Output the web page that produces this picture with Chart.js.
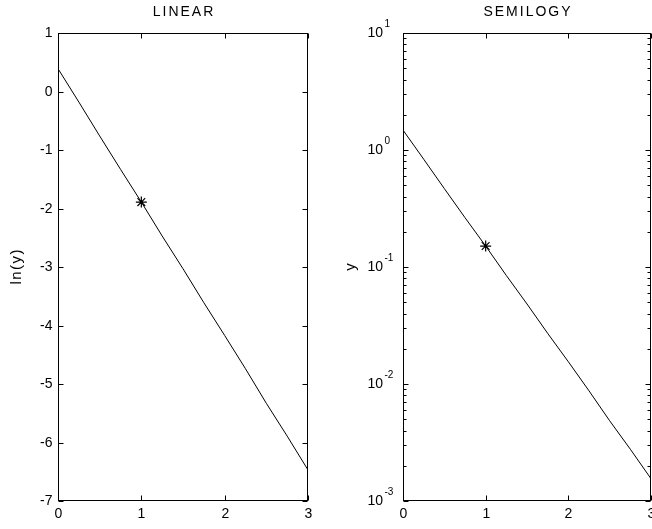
<!DOCTYPE html>
<html>
<head>
<meta charset="utf-8">
<script src="https://cdn.jsdelivr.net/npm/chart.js@4.4.0/dist/chart.umd.min.js"></script>
<style>
  body { margin: 0; background: #fff; overflow: hidden; }
  canvas { position: absolute; top: 0; }
  #linChart { left: 0; }
  #logChart { left: 330px; }
</style>
</head>
<body>
<canvas id="linChart" width="330" height="529"></canvas>
<canvas id="logChart" width="322" height="529"></canvas>
<script>
// sample points of the decay curve
var xs = [0, 0.25, 0.5, 0.75, 1, 1.25, 1.5, 1.75, 2, 2.25, 2.5, 2.75, 3];
var lnY = [0.39, -0.18, -0.76, -1.33, -1.89, -2.47, -3.03, -3.61, -4.17, -4.74, -5.33, -5.89, -6.47];
var yVals = [1.48, 0.835, 0.468, 0.264, 0.151, 0.0846, 0.0483, 0.0271, 0.0155, 0.00874, 0.00485, 0.00277, 0.00155];

// marked point
var markX = 1;
var markLn = -1.89;
var markY = 0.151;

// axis ticks
var xTicks = [0, 1, 2, 3];
var linTicks = [-7, -6, -5, -4, -3, -2, -1, 0, 1];
var logExps = [-3, -2, -1, 0, 1];

var FONT = '"Liberation Sans", Arial, sans-serif';

function pts(xa, ya) {
  var out = [];
  for (var i = 0; i < xa.length; i++) out.push({ x: xa[i], y: ya[i] });
  return out;
}

function tick(ctx, x1, y1, x2, y2) {
  ctx.beginPath();
  ctx.moveTo(x1, y1);
  ctx.lineTo(x2, y2);
  ctx.stroke();
}

// text with tracking, centred on x
function spaced(ctx, s, x, y, sp) {
  ctx.letterSpacing = sp + 'px';
  ctx.fillText(s, x + sp / 2, y);
  ctx.letterSpacing = '0px';
}

// frame, inward ticks and labels like a matlab axes box
var boxAxes = {
  id: 'boxAxes',
  afterDraw: function (chart, args, o) {
    var ctx = chart.ctx;
    var a = chart.chartArea;
    var xs_ = chart.scales.x, ys_ = chart.scales.y;
    var L = Math.round(a.left) + 0.5, R = Math.round(a.right) - 0.5;
    var T = Math.round(a.top) + 0.5, B = Math.round(a.bottom) - 0.5;
    ctx.save();
    ctx.strokeStyle = '#000';
    ctx.lineWidth = 1;
    ctx.strokeRect(L, T, R - L, B - T);
    ctx.fillStyle = '#000';

    // x ticks
    ctx.font = '14px ' + FONT;
    ctx.textAlign = 'center';
    ctx.textBaseline = 'top';
    xTicks.forEach(function (v) {
      var px = Math.round(xs_.getPixelForValue(v)) + 0.5;
      tick(ctx, px, B, px, B - 5);
      tick(ctx, px, T, px, T + 5);
      ctx.fillText(String(v), px, B + 7);
    });

    if (o.log) {
      logExps.forEach(function (e, i) {
        var py = Math.round(ys_.getPixelForValue(Math.pow(10, e))) + 0.5;
        tick(ctx, L, py, L + 5, py);
        tick(ctx, R, py, R - 5, py);
        // "10" with superscript exponent
        ctx.textAlign = 'left';
        ctx.textBaseline = 'middle';
        ctx.font = '14px ' + FONT;
        ctx.fillText('10', L - 36, py);
        ctx.font = '10px ' + FONT;
        ctx.fillText(String(e), L - 19, py - 9);
        if (i < logExps.length - 1) {
          for (var m = 2; m < 10; m++) {
            var my = Math.round(ys_.getPixelForValue(m * Math.pow(10, e))) + 0.5;
            tick(ctx, L, my, L + 3, my);
            tick(ctx, R, my, R - 3, my);
          }
        }
      });
    } else {
      ctx.textAlign = 'right';
      ctx.textBaseline = 'middle';
      linTicks.forEach(function (v) {
        var py = Math.round(ys_.getPixelForValue(v)) + 0.5;
        tick(ctx, L, py, L + 5, py);
        tick(ctx, R, py, R - 5, py);
        ctx.fillText(String(v), L - 6, py);
      });
    }

    // title
    ctx.font = '14px ' + FONT;
    ctx.textAlign = 'center';
    ctx.textBaseline = 'middle';
    spaced(ctx, o.title, (a.left + a.right) / 2, 12, 2);

    // y label
    ctx.translate(o.ylabelX, (a.top + a.bottom) / 2);
    ctx.rotate(-Math.PI / 2);
    ctx.font = '15px ' + FONT;
    spaced(ctx, o.ylabel, 0, 0, 1.5);
    ctx.restore();
  }
};

function makeChart(id, lineData, markData, yScale, pad, opts) {
  return new Chart(document.getElementById(id), {
    type: 'scatter',
    data: {
      datasets: [{
        data: lineData,
        showLine: true,
        borderColor: '#000',
        borderWidth: 1,
        pointRadius: 0,
        tension: 0
      }, {
        data: markData,
        showLine: false,
        pointStyle: 'star',
        pointRadius: 5.5,
        borderColor: '#000',
        borderWidth: 1.2,
        backgroundColor: '#000'
      }]
    },
    options: {
      responsive: false,
      animation: false,
      events: [],
      layout: { padding: pad, autoPadding: false },
      plugins: {
        legend: { display: false },
        tooltip: { enabled: false },
        boxAxes: opts
      },
      scales: {
        x: { type: 'linear', min: 0, max: 3, display: false },
        y: yScale
      }
    },
    plugins: [boxAxes]
  });
}

makeChart('linChart',
  pts(xs, lnY),
  [{ x: markX, y: markLn }],
  { type: 'linear', min: -7, max: 1, display: false },
  { left: 58, right: 22, top: 33, bottom: 28 },
  { log: false, title: 'LINEAR', ylabel: 'ln(y)', ylabelX: 17 });

makeChart('logChart',
  pts(xs, yVals),
  [{ x: markX, y: markY }],
  { type: 'logarithmic', min: 0.001, max: 10, display: false },
  { left: 73, right: 1, top: 33, bottom: 28 },
  { log: true, title: 'SEMILOGY', ylabel: 'y', ylabelX: 21 });
</script>
</body>
</html>
